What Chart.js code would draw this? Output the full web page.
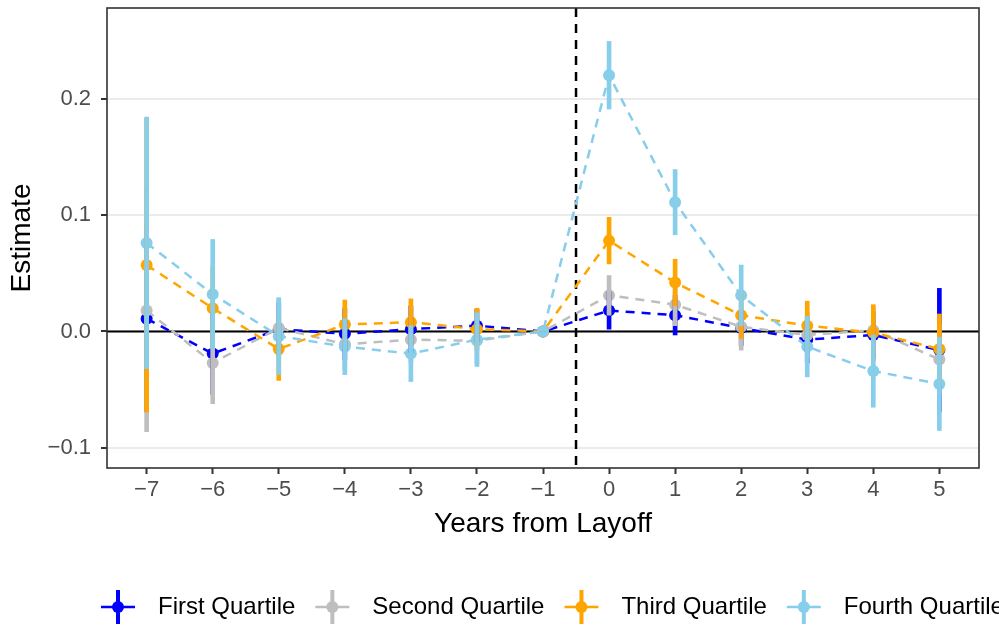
<!DOCTYPE html>
<html>
<head>
<meta charset="utf-8">
<script src="https://cdn.jsdelivr.net/npm/chart.js@4/dist/chart.umd.min.js"></script>
<style>
  body { margin: 0; background: #fff; }
</style>
</head>
<body>
<canvas id="chart" width="999" height="626"></canvas>
<script>
const years = [-7, -6, -5, -4, -3, -2, -1, 0, 1, 2, 3, 4, 5];
const xTicks = years;
const yTicks = [-0.1, 0, 0.1, 0.2];

// point estimates and half-width of the confidence interval
const firstEst  = [0.011, -0.019, 0.002, -0.002, 0.002, 0.005, 0, 0.018, 0.014, 0.003, -0.007, -0.003, -0.016];
const firstCI   = [0.080, 0.035, 0.022, 0.022, 0.020, 0.014, 0, 0.016, 0.017, 0.015, 0.020, 0.020, 0.053];
const secondEst = [0.018, -0.027, 0.003, -0.011, -0.007, -0.008, 0, 0.031, 0.023, 0.004, -0.003, 0.001, -0.024];
const secondCI  = [0.104, 0.035, 0.025, 0.022, 0.020, 0.020, 0, 0.017, 0.018, 0.020, 0.020, 0.020, 0.030];
const thirdEst  = [0.057, 0.020, -0.015, 0.006, 0.008, 0.002, 0, 0.078, 0.042, 0.014, 0.005, -0.001, -0.015];
const thirdCI   = [0.126, 0.035, 0.027, 0.021, 0.020, 0.018, 0, 0.020, 0.020, 0.020, 0.021, 0.024, 0.030];
const fourthEst = [0.076, 0.032, -0.004, -0.013, -0.019, -0.007, 0, 0.220, 0.111, 0.031, -0.013, -0.034, -0.045];
const fourthCI  = [0.108, 0.047, 0.033, 0.024, 0.024, 0.023, 0, 0.029, 0.028, 0.026, 0.026, 0.031, 0.040];

const labels = ["First Quartile", "Second Quartile", "Third Quartile", "Fourth Quartile"];
const colors = ["#0000FF", "#BEBEBE", "#FFA500", "#87CEEB"];
const estimates = [firstEst, secondEst, thirdEst, fourthEst];
const intervals = [firstCI, secondCI, thirdCI, fourthCI];

const FONT = "'Liberation Sans', Arial, Helvetica, sans-serif";
Chart.defaults.font.family = FONT;

const minus = v => (v < 0 ? "\u2212" : "");

const datasets = [];
labels.forEach((label, s) => {
    // error bars (drawn above the lines, last series on top)
    datasets.push({
        type: "bar",
        label,
        data: years.map((x, i) => ({ x, y: [estimates[s][i] - intervals[s][i], estimates[s][i] + intervals[s][i]] })),
        backgroundColor: colors[s],
        borderWidth: 0,
        barThickness: 4,
        grouped: false,
        order: 3 - s,
    });
    datasets.push({
        type: "line",
        label,
        data: years.map((x, i) => ({ x, y: estimates[s][i] })),
        borderColor: colors[s],
        backgroundColor: colors[s],
        borderWidth: 2.5,
        borderDash: [9, 7],
        pointRadius: 6,
        pointBorderWidth: 0,
        pointBackgroundColor: colors[s],
        tension: 0,
        fill: false,
        order: 7 - s,
    });
});

const refLines = {
    id: "refLines",
    beforeDatasetsDraw(chart) {
        const { ctx, chartArea, scales: { x, y } } = chart;
        ctx.save();
        ctx.strokeStyle = "#000";
        ctx.lineWidth = 2;
        const y0 = y.getPixelForValue(0);
        ctx.beginPath();
        ctx.moveTo(chartArea.left, y0);
        ctx.lineTo(chartArea.right, y0);
        ctx.stroke();
        const xv = x.getPixelForValue(-0.5);
        ctx.lineWidth = 2.5;
        ctx.setLineDash([9, 7]);
        ctx.beginPath();
        ctx.moveTo(xv, chartArea.top);
        ctx.lineTo(xv, chartArea.bottom);
        ctx.stroke();
        ctx.restore();
    }
};

const panelBorder = {
    id: "panelBorder",
    afterDatasetsDraw(chart) {
        const { ctx, chartArea: a } = chart;
        ctx.save();
        ctx.strokeStyle = "#333333";
        ctx.lineWidth = 1.6;
        ctx.strokeRect(a.left, a.top, a.right - a.left, a.bottom - a.top);
        ctx.restore();
    }
};

const bottomLegend = {
    id: "bottomLegend",
    afterDraw(chart) {
        const { ctx } = chart;
        ctx.save();
        ctx.font = "24px " + FONT;
        ctx.textBaseline = "middle";
        ctx.textAlign = "left";
        const cy = 607;
        let cx = 118;
        labels.forEach((label, s) => {
            ctx.strokeStyle = colors[s];
            ctx.fillStyle = colors[s];
            ctx.lineWidth = 2.5;
            ctx.beginPath();
            ctx.moveTo(cx - 17, cy);
            ctx.lineTo(cx + 17, cy);
            ctx.stroke();
            ctx.lineWidth = 4;
            ctx.beginPath();
            ctx.moveTo(cx, cy - 17);
            ctx.lineTo(cx, cy + 17);
            ctx.stroke();
            ctx.beginPath();
            ctx.arc(cx, cy, 6, 0, Math.PI * 2);
            ctx.fill();
            ctx.fillStyle = "#000";
            const tx = cx + 40;
            ctx.fillText(label, tx, cy);
            cx = tx + ctx.measureText(label).width + 37;
        });
        ctx.restore();
    }
};

new Chart(document.getElementById("chart"), {
    type: "line",
    data: { datasets },
    plugins: [refLines, panelBorder, bottomLegend],
    options: {
        responsive: false,
        animation: false,
        layout: { padding: { top: 8, right: 20, left: 0, bottom: 0 } },
        plugins: { legend: { display: false }, tooltip: { enabled: false } },
        scales: {
            x: {
                type: "linear",
                min: -7.6,
                max: 5.6,
                offset: false,
                afterBuildTicks: scale => { scale.ticks = xTicks.map(v => ({ value: v })); },
                afterFit: scale => {
                    scale.height = 158;
                    scale.paddingLeft = 0;
                    scale.paddingRight = 0;
                },
                grid: { offset: false, drawOnChartArea: false, drawTicks: true, tickLength: 6, tickColor: "#333333", tickWidth: 2 },
                border: { display: false },
                ticks: {
                    color: "#4d4d4d",
                    font: { size: 22 },
                    padding: 3,
                    maxRotation: 0,
                    callback: v => minus(v) + Math.abs(v)
                },
                title: {
                    display: true,
                    text: "Years from Layoff",
                    color: "#000",
                    font: { size: 28 },
                    padding: { top: 0, bottom: 85 }
                }
            },
            y: {
                type: "linear",
                min: -0.1172,
                max: 0.2777,
                afterBuildTicks: scale => { scale.ticks = yTicks.map(v => ({ value: v })); },
                afterFit: scale => {
                    scale.width = 107;
                    scale.paddingTop = 0;
                    scale.paddingBottom = 0;
                },
                grid: { color: "#EBEBEB", lineWidth: 2, tickLength: 6, tickColor: "#333333", tickWidth: 2 },
                border: { display: false },
                ticks: {
                    color: "#4d4d4d",
                    font: { size: 22 },
                    padding: 10,
                    callback: v => minus(v) + Math.abs(v).toFixed(1)
                },
                title: {
                    display: true,
                    text: "Estimate",
                    color: "#000",
                    font: { size: 28 },
                    padding: { top: 5, bottom: 0 }
                }
            }
        }
    }
});
</script>
</body>
</html>
